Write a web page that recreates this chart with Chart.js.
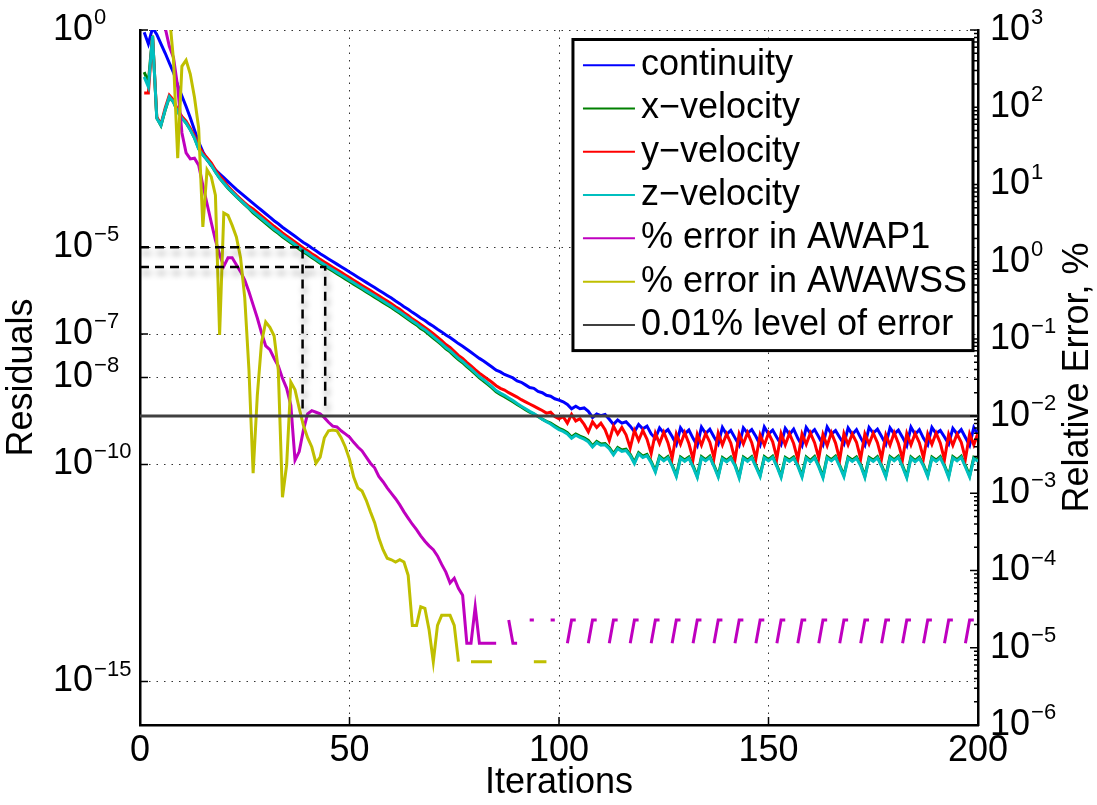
<!DOCTYPE html>
<html>
<head>
<meta charset="utf-8">
<title>Residuals and relative error</title>
<script src="https://cdn.jsdelivr.net/npm/chart.js@4.4.1/dist/chart.umd.min.js"></script>
<style>
  html, body { margin: 0; padding: 0; background: #fff; }
  #wrap { width: 1097px; height: 805px; position: relative; }
</style>
</head>
<body>
<div id="wrap"><canvas id="residuals"></canvas></div>
<script>
const continuityExp = [
  -0.05, -0.32, 0.05, -0.10, -0.32, -0.53, -0.76, -0.98, -1.27, -1.52,
  -1.76, -2.02, -2.30, -2.58, -2.80, -2.98, -3.12, -3.22, -3.31, -3.40,
  -3.49, -3.58, -3.67, -3.75, -3.83, -3.91, -3.99, -4.07, -4.15, -4.23,
  -4.31, -4.39, -4.46, -4.54, -4.61, -4.68, -4.75, -4.82, -4.89, -4.95,
  -5.02, -5.08, -5.15, -5.21, -5.27, -5.33, -5.39, -5.45, -5.51, -5.57,
  -5.63, -5.69, -5.75, -5.81, -5.87, -5.93, -5.99, -6.05, -6.11, -6.17,
  -6.24, -6.30, -6.37, -6.43, -6.50, -6.56, -6.63, -6.69, -6.76, -6.82,
  -6.89, -6.95, -7.02, -7.08, -7.15, -7.22, -7.28, -7.35, -7.42, -7.49,
  -7.56, -7.62, -7.69, -7.76, -7.83, -7.87, -7.93, -7.97, -8.01, -8.08,
  -8.11, -8.17, -8.23, -8.25, -8.32, -8.35, -8.41, -8.43, -8.49, -8.52,
  -8.56, -8.62, -8.72, -8.66, -8.72, -8.70, -8.78, -8.92, -8.84, -8.88,
  -8.85, -8.96, -9.08, -8.98, -9.05, -9.02, -9.12, -9.25, -9.08, -9.18,
  -9.12, -9.30, -9.40, -9.16, -9.28, -9.20, -9.36, -9.54, -9.16, -9.30,
  -9.21, -9.40, -9.57, -9.14, -9.29, -9.19, -9.37, -9.53, -9.15, -9.31,
  -9.22, -9.39, -9.56, -9.16, -9.28, -9.20, -9.36, -9.55, -9.14, -9.30,
  -9.21, -9.38, -9.54, -9.17, -9.31, -9.19, -9.40, -9.57, -9.15, -9.29,
  -9.20, -9.37, -9.55, -9.14, -9.30, -9.22, -9.38, -9.53, -9.16, -9.31,
  -9.20, -9.39, -9.56, -9.15, -9.28, -9.19, -9.36, -9.54, -9.16, -9.30,
  -9.21, -9.38, -9.57, -9.14, -9.31, -9.20, -9.40, -9.55, -9.15, -9.29,
  -9.22, -9.37, -9.53, -9.17, -9.30, -9.20, -9.38, -9.56, -9.15, -9.31
];
const xVelocityExp = [
  -0.97, -1.20, -0.13, -2.02, -2.20, -1.85, -1.55, -1.66, -1.88, -2.02,
  -2.14, -2.29, -2.48, -2.73, -2.87, -2.99, -3.11, -3.27, -3.41, -3.53,
  -3.64, -3.74, -3.84, -3.93, -4.02, -4.11, -4.21, -4.29, -4.37, -4.45,
  -4.53, -4.61, -4.68, -4.76, -4.83, -4.90, -4.97, -5.04, -5.11, -5.17,
  -5.24, -5.30, -5.37, -5.43, -5.49, -5.55, -5.61, -5.67, -5.73, -5.79,
  -5.85, -5.91, -5.97, -6.03, -6.09, -6.15, -6.21, -6.27, -6.33, -6.39,
  -6.46, -6.52, -6.59, -6.66, -6.73, -6.79, -6.87, -6.93, -7.01, -7.09,
  -7.17, -7.25, -7.34, -7.41, -7.50, -7.59, -7.66, -7.75, -7.83, -7.92,
  -8.01, -8.08, -8.16, -8.24, -8.33, -8.39, -8.44, -8.50, -8.56, -8.62,
  -8.68, -8.74, -8.80, -8.84, -8.90, -8.96, -9.01, -9.05, -9.11, -9.17,
  -9.21, -9.27, -9.37, -9.30, -9.35, -9.39, -9.45, -9.57, -9.47, -9.53,
  -9.52, -9.61, -9.75, -9.61, -9.67, -9.65, -9.77, -9.95, -9.73, -9.81,
  -9.77, -9.93, -10.15, -9.81, -9.89, -9.82, -10.01, -10.25, -9.83, -9.90,
  -9.83, -10.03, -10.27, -9.82, -9.89, -9.81, -10.02, -10.26, -9.84, -9.91,
  -9.83, -10.00, -10.28, -9.83, -9.90, -9.82, -10.03, -10.25, -9.82, -9.89,
  -9.81, -10.02, -10.27, -9.84, -9.90, -9.83, -10.01, -10.26, -9.83, -9.91,
  -9.82, -10.03, -10.28, -9.82, -9.89, -9.81, -10.02, -10.25, -9.83, -9.90,
  -9.83, -10.00, -10.27, -9.84, -9.90, -9.82, -10.02, -10.26, -9.82, -9.89,
  -9.81, -10.03, -10.28, -9.83, -9.91, -9.83, -10.01, -10.25, -9.83, -9.90,
  -9.82, -10.02, -10.27, -9.82, -9.89, -9.81, -10.03, -10.26, -9.84, -9.90
];
const yVelocityExp = [
  -1.45, -1.45, -0.14, -2.00, -2.17, -1.80, -1.50, -1.61, -1.85, -1.99,
  -2.10, -2.26, -2.44, -2.68, -2.83, -2.94, -3.06, -3.22, -3.36, -3.47,
  -3.60, -3.70, -3.80, -3.89, -3.98, -4.06, -4.12, -4.20, -4.28, -4.36,
  -4.44, -4.52, -4.59, -4.67, -4.74, -4.81, -4.88, -4.95, -5.02, -5.08,
  -5.15, -5.21, -5.28, -5.34, -5.40, -5.46, -5.52, -5.58, -5.64, -5.70,
  -5.76, -5.82, -5.88, -5.94, -6.00, -6.06, -6.12, -6.18, -6.24, -6.30,
  -6.37, -6.43, -6.51, -6.57, -6.65, -6.71, -6.78, -6.85, -6.92, -6.99,
  -7.07, -7.15, -7.24, -7.31, -7.40, -7.49, -7.56, -7.65, -7.73, -7.82,
  -7.90, -7.97, -8.04, -8.11, -8.19, -8.25, -8.29, -8.35, -8.40, -8.45,
  -8.51, -8.56, -8.61, -8.66, -8.71, -8.76, -8.82, -8.80, -8.90, -8.95,
  -8.90, -9.05, -8.85, -9.00, -8.95, -9.08, -9.25, -9.02, -9.15, -9.05,
  -9.20, -9.45, -9.12, -9.30, -9.15, -9.32, -9.62, -9.22, -9.45, -9.22,
  -9.42, -9.75, -9.28, -9.52, -9.26, -9.50, -9.86, -9.30, -9.54, -9.27,
  -9.52, -9.88, -9.31, -9.56, -9.29, -9.49, -9.85, -9.28, -9.55, -9.30,
  -9.51, -9.89, -9.30, -9.53, -9.27, -9.50, -9.87, -9.32, -9.56, -9.28,
  -9.48, -9.86, -9.29, -9.55, -9.29, -9.52, -9.88, -9.30, -9.54, -9.28,
  -9.50, -9.85, -9.31, -9.57, -9.27, -9.51, -9.89, -9.29, -9.55, -9.30,
  -9.49, -9.87, -9.30, -9.53, -9.28, -9.50, -9.86, -9.32, -9.56, -9.27,
  -9.52, -9.88, -9.29, -9.55, -9.29, -9.50, -9.85, -9.30, -9.54, -9.28,
  -9.51, -9.89, -9.31, -9.56, -9.30, -9.49, -9.87, -9.30, -9.55, -9.28
];
const zVelocityExp = [
  -1.08, -1.31, -0.14, -2.03, -2.19, -1.84, -1.54, -1.66, -1.89, -2.03,
  -2.14, -2.30, -2.49, -2.74, -2.88, -2.99, -3.11, -3.27, -3.41, -3.52,
  -3.63, -3.73, -3.83, -3.92, -4.01, -4.10, -4.18, -4.26, -4.34, -4.42,
  -4.50, -4.58, -4.65, -4.73, -4.80, -4.87, -4.94, -5.01, -5.08, -5.14,
  -5.21, -5.27, -5.34, -5.40, -5.46, -5.52, -5.58, -5.64, -5.70, -5.76,
  -5.82, -5.88, -5.94, -6.00, -6.06, -6.12, -6.18, -6.24, -6.30, -6.36,
  -6.43, -6.49, -6.56, -6.63, -6.70, -6.76, -6.84, -6.90, -6.98, -7.06,
  -7.14, -7.22, -7.31, -7.38, -7.47, -7.56, -7.63, -7.72, -7.80, -7.89,
  -7.98, -8.05, -8.13, -8.21, -8.30, -8.36, -8.41, -8.47, -8.53, -8.60,
  -8.66, -8.72, -8.78, -8.83, -8.89, -8.96, -9.02, -9.07, -9.14, -9.20,
  -9.24, -9.30, -9.40, -9.33, -9.38, -9.42, -9.48, -9.60, -9.50, -9.56,
  -9.55, -9.64, -9.78, -9.64, -9.70, -9.68, -9.80, -9.98, -9.76, -9.84,
  -9.80, -9.96, -10.18, -9.84, -9.92, -9.85, -10.04, -10.28, -9.86, -9.93,
  -9.86, -10.06, -10.30, -9.85, -9.92, -9.84, -10.05, -10.29, -9.87, -9.94,
  -9.86, -10.03, -10.31, -9.86, -9.93, -9.85, -10.06, -10.28, -9.85, -9.92,
  -9.84, -10.05, -10.30, -9.87, -9.93, -9.86, -10.04, -10.29, -9.86, -9.94,
  -9.85, -10.06, -10.31, -9.85, -9.92, -9.84, -10.05, -10.28, -9.86, -9.93,
  -9.86, -10.03, -10.30, -9.87, -9.93, -9.85, -10.05, -10.29, -9.85, -9.92,
  -9.84, -10.06, -10.31, -9.86, -9.94, -9.86, -10.04, -10.28, -9.86, -9.93,
  -9.85, -10.05, -10.30, -9.85, -9.92, -9.84, -10.06, -10.29, -9.87, -9.93
];
// relative error in %, log10; null where the value is zero (nothing drawn)
const awap1Exp = [
  4.40, 4.10, 3.80, 3.50, 3.25, 3.03, 2.79, 2.64, 2.26, 1.67,
  1.41, 1.33, 1.34, 1.25, 0.99, 0.75, 0.51, 0.28, 0.09, -0.06,
  0.05, 0.05, -0.04, -0.13, -0.24, -0.39, -0.56, -0.73, -0.92, -1.09,
  -1.14, -1.25, -1.35, -1.51, -1.64, -1.86, -2.57, -2.46, -2.18, -1.97,
  -1.93, -1.95, -1.97, -2.02, -2.08, -2.13, -2.14, -2.19, -2.23, -2.27,
  -2.34, -2.40, -2.45, -2.53, -2.61, -2.67, -2.78, -2.85, -2.93, -3.00,
  -3.07, -3.15, -3.24, -3.32, -3.40, -3.47, -3.55, -3.62, -3.68, -3.73,
  -3.81, -3.92, -4.02, -4.16, -4.10, -4.23, -4.32, -4.94, -4.94, -4.47,
  -4.94, -4.94, -4.94, -4.94, -4.94, null, null, -4.64, -4.94, -4.94,
  null, null, -4.64, -4.64, null, null, null, -4.64, -4.64, null,
  null, -4.94, -4.64, -4.64, null, null, -4.94, -4.64, -4.64, null,
  null, -4.94, -4.64, -4.64, null, null, -4.94, -4.64, -4.64, null,
  null, -4.94, -4.64, -4.64, null, null, -4.94, -4.64, -4.64, null,
  null, -4.94, -4.64, -4.64, null, null, -4.94, -4.64, -4.64, null,
  null, -4.94, -4.64, -4.64, null, null, -4.94, -4.64, -4.64, null,
  null, -4.94, -4.64, -4.64, null, null, -4.94, -4.64, -4.64, null,
  null, -4.94, -4.64, -4.64, null, null, -4.94, -4.64, -4.64, null,
  null, -4.94, -4.64, -4.64, null, null, -4.94, -4.64, -4.64, null,
  null, -4.94, -4.64, -4.64, null, null, -4.94, -4.64, -4.64, null,
  null, -4.94, -4.64, -4.64, null, null, -4.94, -4.64, -4.64, null
];
const awawssExp = [
  4.50, 4.30, 4.00, 3.80, 3.60, 3.40, 3.20, 2.61, 1.34, 2.53,
  2.61, 2.43, 2.13, 1.73, 0.45, 1.19, 1.10, 0.86, -0.95, 0.63,
  0.60, 0.47, 0.32, 0.05, -0.47, -1.40, -2.74, -1.73, -1.05, -0.78,
  -0.85, -0.96, -1.40, -3.05, -2.63, -1.56, -1.66, -1.90, -2.12, -2.28,
  -2.40, -2.61, -2.53, -2.28, -2.19, -2.18, -2.19, -2.28, -2.40, -2.56,
  -2.79, -2.93, -2.97, -3.09, -3.24, -3.38, -3.58, -3.73, -3.84, -3.86,
  -3.89, -3.86, -3.89, -4.06, -4.71, -4.71, -4.47, -4.49, -4.77, -5.18,
  -4.71, -4.58, -4.58, -4.58, -4.71, -5.18, null, null, -5.18, -5.18,
  -5.18, -5.18, -5.18, -5.18, null, null, null, null, null, null,
  null, null, null, -5.18, -5.18, -5.18, -5.18
];

const iterations = Array.from({ length: 200 }, (_, k) => k + 1);
const leftTicks = [1, 1e-5, 1e-7, 1e-8, 1e-10, 1e-15];
const rightTicks = [1e3, 1e2, 1e1, 1, 1e-1, 1e-2, 1e-3, 1e-4, 1e-5, 1e-6];
const errorLevel = 0.01;          // 0.01 % line, right axis
const levelSpan = [0, 200];
const markerIters = [38.8, 44.2];  // where the error curves reach 0.01 %
const markerResiduals = [1e-5, 3.5e-6];
const markerFloor = 1.8e-9;

const FONT = '"Liberation Sans", Arial, Helvetica, sans-serif';
Chart.defaults.font.family = FONT;
Chart.defaults.font.size = 36;
Chart.defaults.color = '#000';

function series(exps) {
  return iterations.map((it, k) => ({
    x: it,
    y: exps[k] == null ? null : Math.pow(10, exps[k])
  }));
}

function powLabel(ctx, x, y, exp) {
  ctx.font = '36px ' + FONT;
  ctx.textAlign = 'left';
  ctx.textBaseline = 'middle';
  ctx.fillText('10', x, y);
  const w = ctx.measureText('10').width;
  ctx.font = '22px ' + FONT;
  ctx.fillText(exp < 0 ? '\u2212' + (-exp) : String(exp), x + w + 1, y - 12);
}

// drop shadow under the dashed guide lines
const guideShadow = {
  id: 'guideShadow',
  beforeDatasetDraw(chart, args) {
    if (!chart.data.datasets[args.index].shadow) return;
    const ctx = chart.ctx;
    ctx.save();
    ctx.shadowColor = 'rgba(0,0,0,0.4)';
    ctx.shadowBlur = 6;
    ctx.shadowOffsetX = 2;
    ctx.shadowOffsetY = 6;
  },
  afterDatasetDraw(chart, args) {
    if (!chart.data.datasets[args.index].shadow) return;
    chart.ctx.restore();
  }
};

// inward tick marks, power-of-ten labels, right title and the boxed legend
const matlabAxes = {
  id: 'matlabAxes',
  afterDraw(chart) {
    const { ctx, chartArea: a, scales } = chart;
    ctx.save();
    ctx.strokeStyle = '#000';
    ctx.lineWidth = 1.5;
    ctx.beginPath();
    scales.x.ticks.forEach(t => {
      if (t.value <= 0 || t.value >= 200) return;
      const px = scales.x.getPixelForValue(t.value);
      ctx.moveTo(px, a.bottom);
      ctx.lineTo(px, a.bottom - 8);
    });
    leftTicks.forEach(v => {
      const py = scales.y.getPixelForValue(v);
      ctx.moveTo(a.left, py);
      ctx.lineTo(a.left + 8, py);
    });
    for (let e = -6; e <= 3; e++) {
      for (let m = 1; m < 10; m++) {
        if (e === 3 && m > 1) break;
        const py = scales.y2.getPixelForValue(m * Math.pow(10, e));
        ctx.moveTo(a.right, py);
        ctx.lineTo(a.right - (m === 1 ? 8 : 4), py);
      }
    }
    ctx.stroke();

    ctx.fillStyle = '#000';
    leftTicks.forEach(v => powLabel(ctx, a.left - 87, scales.y.getPixelForValue(v), Math.round(Math.log10(v))));
    rightTicks.forEach(v => powLabel(ctx, a.right + 12, scales.y2.getPixelForValue(v), Math.round(Math.log10(v))));

    ctx.save();
    ctx.translate(a.right + 100, (a.top + a.bottom) / 2);
    ctx.rotate(-Math.PI / 2);
    ctx.font = '36px ' + FONT;
    ctx.textAlign = 'center';
    ctx.textBaseline = 'middle';
    ctx.fillText('Relative Error, %', 0, 0);
    ctx.restore();

    // legend
    const items = chart.data.datasets.filter(d => d.inLegend);
    ctx.font = '36px ' + FONT;
    const textW = Math.max(...items.map(d => ctx.measureText(d.label).width));
    const rowH = 43.3;
    const w = 68 + textW + 6;
    const h = 8 + items.length * rowH;
    const left = a.right - 5 - w;
    const top = a.top + 9.5;
    ctx.fillStyle = '#fff';
    ctx.fillRect(left, top, w, h);
    ctx.lineWidth = 3;
    ctx.strokeStyle = '#000';
    ctx.strokeRect(left, top, w, h);
    items.forEach((d, k) => {
      const y = top + 4 + rowH / 2 + k * rowH;
      ctx.beginPath();
      ctx.strokeStyle = d.borderColor;
      ctx.lineWidth = 2;
      ctx.moveTo(left + 10, y);
      ctx.lineTo(left + 62, y);
      ctx.stroke();
      ctx.fillStyle = '#000';
      ctx.textAlign = 'left';
      ctx.textBaseline = 'middle';
      ctx.fillText(d.label, left + 68, y);
    });
    ctx.restore();
  }
};

const lineBase = { pointRadius: 0, borderWidth: 3, fill: false, tension: 0, spanGaps: false };

const ctx = document.getElementById('residuals').getContext('2d');
const residualChart = new Chart(ctx, {
  type: 'line',
  data: {
    datasets: [
      { ...lineBase, label: 'continuity', data: series(continuityExp), borderColor: '#0000ff', yAxisID: 'y', order: 9, inLegend: true },
      { ...lineBase, label: 'x\u2212velocity', data: series(xVelocityExp), borderColor: '#008000', yAxisID: 'y', order: 8, inLegend: true },
      { ...lineBase, label: 'y\u2212velocity', data: series(yVelocityExp), borderColor: '#ff0000', yAxisID: 'y', order: 7, inLegend: true },
      { ...lineBase, label: 'z\u2212velocity', data: series(zVelocityExp), borderColor: '#00bfbf', yAxisID: 'y', order: 6, inLegend: true },
      { ...lineBase, label: '% error in AWAP1', data: series(awap1Exp), borderColor: '#bf00bf', yAxisID: 'y2', order: 5, inLegend: true },
      { ...lineBase, label: '% error in AWAWSS', data: series(awawssExp), borderColor: '#bfbf00', yAxisID: 'y2', order: 4, inLegend: true },
      { ...lineBase, label: '0.01% level of error', data: levelSpan.map(x => ({ x, y: errorLevel })),
        borderColor: '#404040', borderWidth: 3, yAxisID: 'y2', order: 3, inLegend: true },
      { ...lineBase, label: 'AWAP1 guide', yAxisID: 'y', order: 2, shadow: true,
        borderColor: '#000', borderWidth: 2.5, borderDash: [9, 6],
        data: [{ x: 0, y: markerResiduals[0] }, { x: markerIters[0], y: markerResiduals[0] }, { x: markerIters[0], y: markerFloor }] },
      { ...lineBase, label: 'AWAWSS guide', yAxisID: 'y', order: 1, shadow: true,
        borderColor: '#000', borderWidth: 2.5, borderDash: [9, 6],
        data: [{ x: 0, y: markerResiduals[1] }, { x: markerIters[1], y: markerResiduals[1] }, { x: markerIters[1], y: markerFloor }] }
    ]
  },
  options: {
    responsive: true,
    maintainAspectRatio: false,
    animation: false,
    events: [],
    layout: { padding: { top: 30, left: 0, right: 0, bottom: 0 } },
    plugins: { legend: { display: false }, tooltip: { enabled: false } },
    scales: {
      x: {
        type: 'linear', min: 0, max: 200,
        ticks: { stepSize: 50, padding: 4, maxRotation: 0, color: '#000', font: { size: 36 } },
        grid: {
          drawTicks: false, lineWidth: 1,
          color: c => (c.tick && (c.tick.value === 0 || c.tick.value === 200)) ? 'rgba(0,0,0,0)' : '#333'
        },
        border: { display: true, color: '#000', width: 2.5, dash: [1.5, 6] },
        title: { display: true, text: 'Iterations', color: '#000', font: { size: 36 }, padding: { top: 0, bottom: 0 } },
        afterFit: s => { s.height = 80; }
      },
      y: {
        type: 'logarithmic', position: 'left', min: 1e-16, max: 1,
        afterBuildTicks: s => { s.ticks = leftTicks.map(v => ({ value: v })); },
        ticks: { display: false },
        grid: { drawTicks: false, lineWidth: 1, color: '#333' },
        border: { display: true, color: '#000', width: 2.5, dash: [1.5, 6] },
        title: { display: true, text: 'Residuals', color: '#000', font: { size: 36 }, padding: 0 },
        afterFit: s => { s.width = 140; }
      },
      y2: {
        type: 'logarithmic', position: 'right', min: 1e-6, max: 1e3,
        afterBuildTicks: s => { s.ticks = rightTicks.map(v => ({ value: v })); },
        ticks: { display: false },
        grid: { display: false, drawOnChartArea: false },
        border: { display: true, color: '#000', width: 2.5 },
        afterFit: s => { s.width = 119; }
      }
    }
  },
  plugins: [guideShadow, matlabAxes]
});
</script>
</body>
</html>
